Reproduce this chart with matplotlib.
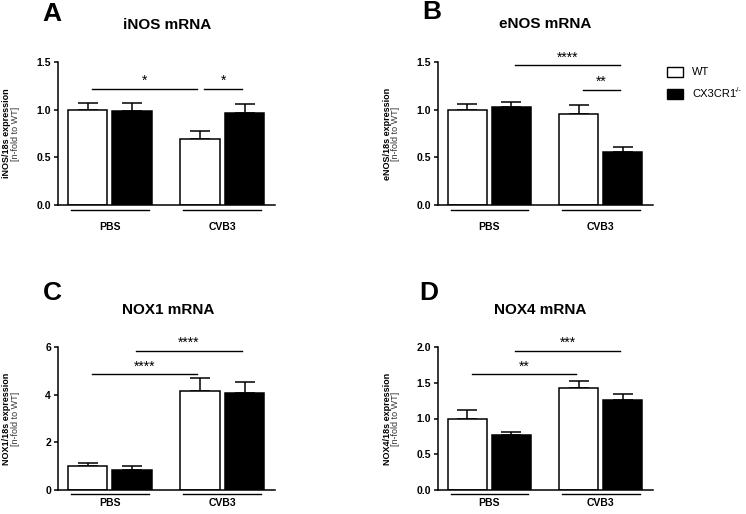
import matplotlib
matplotlib.use("Agg")
import matplotlib.pyplot as plt
from matplotlib.patches import Rectangle
import matplotlib.transforms as mtransforms

plt.rcParams['font.family'] = ['Liberation Sans', 'DejaVu Sans']

# ---------------- data ----------------
groups = ['PBS', 'CVB3']
genotypes = ['WT', 'CX3CR1']
genotype_sup = ['', '-/-']
# order: WT-PBS, KO-PBS, WT-CVB3, KO-CVB3
iNOS_mean = [1.00, 0.99, 0.69, 0.96]
iNOS_err = [0.07, 0.08, 0.09, 0.10]
eNOS_mean = [1.00, 1.03, 0.95, 0.56]
eNOS_err = [0.06, 0.05, 0.10, 0.05]
NOX1_mean = [1.01, 0.82, 4.16, 4.07]
NOX1_err = [0.11, 0.20, 0.53, 0.45]
NOX4_mean = [1.00, 0.77, 1.42, 1.26]
NOX4_err = [0.12, 0.04, 0.10, 0.08]

titles = ['iNOS mRNA', 'eNOS mRNA', 'NOX1 mRNA', 'NOX4 mRNA']
letters = ['A', 'B', 'C', 'D']
ylabels = ['iNOS/18s expression', 'eNOS/18s expression',
           'NOX1/18s expression', 'NOX4/18s expression']
yticks_list = [[0.0, 0.5, 1.0, 1.5], [0.0, 0.5, 1.0, 1.5],
               [0, 2, 4, 6], [0.0, 0.5, 1.0, 1.5, 2.0]]
ytick_fmt = ['{:.1f}', '{:.1f}', '{:.0f}', '{:.1f}']
# significance: (bar i, bar j, height, label)
sig_A = [(0, 2, 1.22, '*'), (2, 3, 1.22, '*')]
sig_B = [(1, 3, 1.47, '****'), (2, 3, 1.21, '**')]
sig_C = [(0, 2, 4.85, '****'), (1, 3, 5.85, '****')]
sig_D = [(0, 2, 1.62, '**'), (1, 3, 1.95, '***')]

means = [iNOS_mean, eNOS_mean, NOX1_mean, NOX4_mean]
errs = [iNOS_err, eNOS_err, NOX1_err, NOX4_err]
sigs = [sig_A, sig_B, sig_C, sig_D]

# ---------------- layout ----------------
W, H = 746, 514
fig = plt.figure(figsize=(W / 100, H / 100), dpi=100)

def px_axes(left, top, right, bottom):
    return fig.add_axes([left / W, 1 - bottom / H, (right - left) / W, (bottom - top) / H])

ax_boxes = [(58, 62, 275, 205), (438, 62, 653, 205),
            (58, 347, 275, 490), (438, 347, 653, 490)]
title_pos = [(167, 25), (545, 24), (168, 310), (540, 310)]
letter_pos = [(52, 14), (432, 12), (52, 293), (429, 293)]
xlabel_pad = [12, 12, 6, 6]
line_off = [-0.035, -0.035, -0.031, -0.031]

xpos = [0.75, 1.87, 3.60, 4.73]
bar_w = 1.0
colors = ['white', 'black', 'white', 'black']
group_c = [(xpos[0] + xpos[1]) / 2, (xpos[2] + xpos[3]) / 2]

for k in range(4):
    l, t, r, b = ax_boxes[k]
    ax = px_axes(l, t, r, b)
    m = means[k]
    e = errs[k]
    ax.errorbar(xpos, m, yerr=[[0] * 4, e], fmt='none', ecolor='black',
                elinewidth=1.1, capsize=7.5, capthick=1.1, zorder=1)
    ax.bar(xpos, m, width=bar_w, color=colors, edgecolor='black',
           linewidth=1.1, zorder=2)
    ax.set_xlim(0, 5.5)
    yt = yticks_list[k]
    ax.set_ylim(0, yt[-1])
    ax.set_yticks(yt)
    ax.set_yticklabels([ytick_fmt[k].format(v) for v in yt],
                       fontsize=7.5, fontweight='bold')
    ax.set_xticks(group_c)
    ax.set_xticklabels(groups, fontsize=7.5, fontweight='bold')
    ax.tick_params(axis='x', length=0, pad=xlabel_pad[k])
    ax.tick_params(axis='y', length=3, width=1.1, pad=2)
    for s in ['top', 'right']:
        ax.spines[s].set_visible(False)
    for s in ['left', 'bottom']:
        ax.spines[s].set_linewidth(1.1)
    # group underlines
    trans = mtransforms.blended_transform_factory(ax.transData, ax.transAxes)
    for gc in group_c:
        ax.plot([gc - 0.99, gc + 0.99], [line_off[k], line_off[k]], color='black',
                lw=1.0, transform=trans, clip_on=False)
    # significance
    for (i, j, y, lab) in sigs[k]:
        x0 = xpos[i] + 0.11
        x1 = xpos[j] - 0.07
        ax.plot([x0, x1], [y, y], color='black', lw=1.0, clip_on=False)
        ax.annotate(lab, xy=((x0 + x1) / 2, y), xytext=(0, 2.5),
                    textcoords='offset points', ha='center', va='baseline',
                    fontsize=10)
    # y labels
    cy = 1 - ((t + b) / 2) / H
    fig.text((l - 51) / W, cy, ylabels[k], rotation=90, ha='center', va='center',
             fontsize=6.5, fontweight='bold')
    fig.text((l - 43) / W, cy, '[n-fold to WT]', rotation=90, ha='center',
             va='center', fontsize=6.5, color='#333333')
    # title & letter
    tx, ty = title_pos[k]
    fig.text(tx / W, 1 - ty / H, titles[k], ha='center', va='center',
             fontsize=11, fontweight='bold')
    lx, ly = letter_pos[k]
    fig.text(lx / W, 1 - ly / H, letters[k], ha='center', va='center',
             fontsize=19, fontweight='bold')

# legend (manual)
leg_items = [('white', 72), ('black', 94)]
for (c, yc), name, sup in zip(leg_items, genotypes, genotype_sup):
    rect = Rectangle((667 / W, 1 - (yc + 4.5) / H), 16 / W, 9 / H,
                     facecolor=c, edgecolor='black', linewidth=1.0,
                     transform=fig.transFigure)
    fig.add_artist(rect)
    txt = fig.text(692 / W, 1 - yc / H, name, ha='left', va='center', fontsize=8)
    if sup:
        fig.text(735 / W, 1 - (yc - 4) / H, sup, ha='left', va='center', fontsize=5)

fig.savefig('out.png', dpi=100)
